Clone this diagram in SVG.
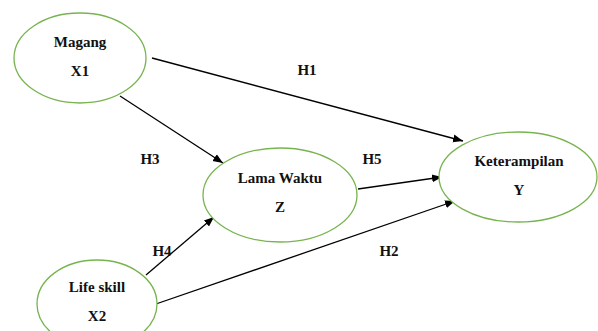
<svg xmlns="http://www.w3.org/2000/svg" width="598" height="331" viewBox="0 0 598 331">
<style>
.node ellipse{fill:#fff;stroke:#77b450;stroke-width:1.3}
text{font-family:"Liberation Serif","Times New Roman",serif;font-weight:bold;font-size:15px;fill:#111;text-anchor:middle}
.edge{stroke:#000;stroke-width:1.3;fill:none;marker-end:url(#ah)}
</style>
<defs>
<marker id="ah" viewBox="0 0 10 10" refX="10" refY="5" markerWidth="10" markerHeight="10" markerUnits="userSpaceOnUse" orient="auto">
<path d="M0,1 L10,5 L0,9 Z" fill="#000"/>
</marker>
</defs>
<rect width="598" height="331" fill="#fff"/>
<g id="connectors">
<line class="edge" x1="152" y1="58" x2="463" y2="141"/>
<line class="edge" x1="120" y1="96" x2="223" y2="163"/>
<line class="edge" x1="146" y1="275" x2="214" y2="217"/>
<line class="edge" x1="358" y1="189" x2="442" y2="177"/>
<line class="edge" x1="153" y1="305" x2="455" y2="201"/>
<text x="307" y="75">H1</text>
<text x="150" y="164">H3</text>
<text x="372" y="164">H5</text>
<text x="162" y="256">H4</text>
<text x="389" y="256">H2</text>
</g>
<g id="magang" class="node">
<ellipse cx="80" cy="58" rx="66" ry="45"/>
<text x="80" y="47">Magang</text>
<text x="80" y="76">X1</text>
</g>
<g id="lamawaktu" class="node">
<ellipse cx="280" cy="195" rx="77" ry="47"/>
<text x="280" y="183">Lama Waktu</text>
<text x="280" y="212">Z</text>
</g>
<g id="keterampilan" class="node">
<ellipse cx="518" cy="177" rx="79" ry="45"/>
<text x="519" y="166">Keterampilan</text>
<text x="519" y="195">Y</text>
</g>
<g id="lifeskill" class="node">
<ellipse cx="97" cy="304" rx="60" ry="44"/>
<text x="97" y="292">Life skill</text>
<text x="97" y="321">X2</text>
</g>
</svg>
